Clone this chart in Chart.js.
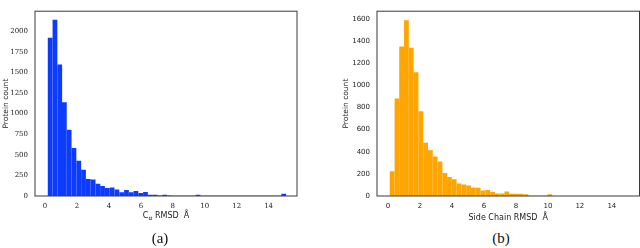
<!DOCTYPE html>
<html>
<head>
<meta charset="utf-8">
<script src="https://cdn.jsdelivr.net/npm/chart.js@4.4.0/dist/chart.umd.min.js"></script>
<style>
  body { margin: 0; width: 640px; height: 248px; background: #fff; position: relative; overflow: hidden; }
  .box { position: absolute; top: 0; width: 300px; height: 228px; }
  #boxA { left: 0; }
  #boxB { left: 340px; }
  .cap { position: absolute; top: 229px; font: 15px "Liberation Serif", serif; color: #111; transform: translateX(-50%); line-height: 18px; }
  .xlab { position: absolute; top: 211px; font: 8px "DejaVu Sans", sans-serif; color: #222; transform: translateX(-50%); white-space: nowrap; }
  .xlab sub { font-size: 6px; vertical-align: -2px; }
</style>
</head>
<body>
<div class="box" id="boxA"><canvas id="histA"></canvas></div>
<div class="box" id="boxB"><canvas id="histB"></canvas></div>
<div class="xlab" style="left:166px">C<sub>α</sub> RMSD&nbsp; Å</div>
<div class="cap" style="left:160px">(a)</div>
<div class="cap" style="left:501px">(b)</div>
<script>
// (a) C-alpha RMSD histogram: bin centres and counts
const aCenters = [0.32, 0.62, 0.92, 1.21, 1.51, 1.81, 2.11, 2.41, 2.71, 3.01,
  3.31, 3.60, 3.90, 4.20, 4.50, 4.80, 5.10, 5.40, 5.69, 5.99,
  6.29, 6.59, 6.89, 7.19, 7.49, 7.79, 8.08, 8.38, 8.68, 8.98,
  9.28, 9.58, 9.88, 10.17, 10.47, 10.77, 11.07, 11.37, 11.67, 11.97,
  12.27, 12.56, 12.86, 13.16, 13.46, 13.76, 14.06, 14.36, 14.66, 14.95];
const aCounts = [1917, 2136, 1591, 1135, 801, 580, 425, 316, 201, 195,
  144, 116, 93, 100, 76, 42, 69, 42, 58, 31,
  46, 12, 12, 2, 10, 1, 0, 0, 0, 0,
  0, 10, 0, 0, 0, 0, 0, 0, 0, 0,
  0, 0, 0, 0, 0, 0, 0, 0, 0, 22];

// (b) side chain RMSD histogram
const bCenters = [0.26, 0.56, 0.85, 1.15, 1.45, 1.75, 2.05, 2.35, 2.65, 2.95,
  3.25, 3.55, 3.84, 4.14, 4.44, 4.74, 5.04, 5.34, 5.64, 5.94,
  6.24, 6.54, 6.83, 7.13, 7.43, 7.73, 8.03, 8.33, 8.63, 8.93,
  9.23, 9.53, 9.82, 10.12];
const bCounts = [220, 880, 1350, 1587, 1339, 1117, 764, 479, 412, 354,
  310, 205, 168, 148, 111, 100, 91, 72, 72, 46,
  51, 34, 20, 20, 37, 17, 17, 17, 12, 0,
  0, 0, 0, 12];

const xTicks = [0, 2, 4, 6, 8, 10, 12, 14];
const aYTicks = [0, 250, 500, 750, 1000, 1250, 1500, 1750, 2000];
const bYTicks = [0, 200, 400, 600, 800, 1000, 1200, 1400, 1600];

const framePlugin = {
  id: 'frame',
  afterDraw(chart) {
    const a = chart.chartArea;
    const ctx = chart.ctx;
    ctx.save();
    ctx.strokeStyle = '#3a3a3a';
    ctx.lineWidth = 1;
    ctx.strokeRect(a.left, a.top, a.right - a.left, a.bottom - a.top);
    ctx.restore();
  }
};

function makeHist(id, centers, counts, color, yTicks, opts) {
  const tickFont = { family: opts.tickFamily, size: 7 };
  return new Chart(document.getElementById(id), {
    type: 'bar',
    data: {
      datasets: [{
        data: centers.map((x, i) => ({ x: x, y: counts[i] })),
        backgroundColor: color,
        borderWidth: 0,
        barThickness: 4.1
      }]
    },
    options: {
      responsive: true,
      maintainAspectRatio: false,
      animation: false,
      layout: { padding: { top: 1, right: opts.padRight, left: 0, bottom: 0 } },
      plugins: { legend: { display: false }, tooltip: { enabled: false } },
      scales: {
        x: {
          type: 'linear',
          offset: false,
          min: opts.xMin,
          max: opts.xMax,
          grid: { display: false, drawTicks: false },
          border: { display: false },
          afterBuildTicks: s => { s.ticks = xTicks.map(v => ({ value: v })); },
          afterFit: s => { s.height = 32; },
          ticks: { font: tickFont, color: '#222', padding: 6, maxRotation: 0, callback: v => String(v) },
          title: {
            display: !!opts.xTitle,
            text: opts.xTitle || '',
            font: { family: 'DejaVu Sans', size: 8 },
            color: '#222',
            padding: { top: 0, bottom: 5 }
          }
        },
        y: {
          min: 0,
          max: opts.yMax,
          grid: { display: false, drawTicks: false },
          border: { display: false },
          afterBuildTicks: s => { s.ticks = yTicks.map(v => ({ value: v })); },
          afterFit: s => { s.width = opts.yWidth; },
          ticks: { font: tickFont, color: '#222', padding: 7, callback: v => String(v) },
          title: {
            display: true,
            text: 'Protein count',
            font: { family: 'DejaVu Sans', size: 7.5 },
            color: '#222',
            padding: { top: 2, bottom: 0 }
          }
        }
      }
    },
    plugins: [framePlugin]
  });
}

makeHist('histA', aCenters, aCounts, '#0d3cff', aYTicks, {
  xMin: -0.63, xMax: 15.78, yMax: 2243, yWidth: 35, padRight: 3,
  tickFamily: 'DejaVu Serif', xTitle: ''
});
makeHist('histB', bCenters, bCounts, '#ffa500', bYTicks, {
  xMin: -0.69, xMax: 15.73, yMax: 1672, yWidth: 37, padRight: 0.5,
  tickFamily: 'DejaVu Sans', xTitle: 'Side Chain RMSD  Å'
});
</script>
</body>
</html>
